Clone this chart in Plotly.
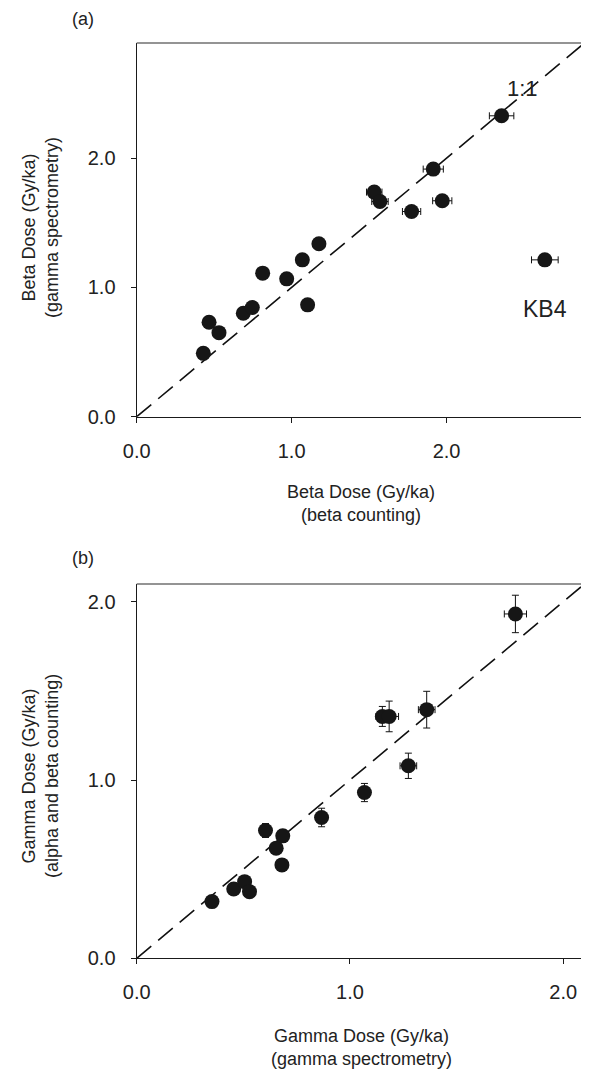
import plotly.graph_objects as go

# ---------------- data ----------------
# Panel (a): beta dose, beta counting (x) vs gamma spectrometry (y)
beta_counting = [0.43, 0.467, 0.531, 0.688, 0.746, 0.813, 0.968, 1.069, 1.103, 1.176,
                 1.533, 1.57, 1.774, 1.914, 1.972, 2.355, 2.634]
beta_gamma_spec = [0.49, 0.73, 0.65, 0.80, 0.844, 1.11, 1.066, 1.213, 0.865, 1.337,
                   1.737, 1.664, 1.587, 1.915, 1.67, 2.327, 1.213]
beta_counting_err = [0.03, 0.03, 0.03, 0.03, 0.03, 0.03, 0.03, 0.03, 0.03, 0.03,
                     0.05, 0.053, 0.059, 0.065, 0.062, 0.079, 0.086]
beta_gamma_spec_err = [0.03] * 17

# Panel (b): gamma dose, gamma spectrometry (x) vs alpha and beta counting (y)
gamma_spec = [0.353, 0.455, 0.506, 0.529, 0.604, 0.654, 0.685, 0.681, 0.867, 1.068,
              1.152, 1.184, 1.274, 1.36, 1.776]
gamma_ab_counting = [0.318, 0.389, 0.43, 0.374, 0.717, 0.618, 0.687, 0.524, 0.79, 0.93,
                     1.357, 1.357, 1.08, 1.395, 1.932]
gamma_spec_err = [0.02, 0.02, 0.02, 0.02, 0.02, 0.02, 0.02, 0.02, 0.02, 0.025,
                  0.03, 0.044, 0.039, 0.039, 0.052]
gamma_ab_counting_err = [0.02, 0.02, 0.02, 0.02, 0.039, 0.03, 0.035, 0.03, 0.052, 0.051,
                         0.056, 0.086, 0.071, 0.103, 0.105]

range_a = [0, 2.89]
range_b = [0, 2.1]
tick_vals = [0.0, 1.0, 2.0]
tick_text = ["0.0", "1.0", "2.0"]

# ---------------- figure ----------------
W, H = 589, 1074
OFF = 8  # page body margin offset
FONT = "Liberation Sans, Arial, sans-serif"
INK = "#222222"
MARK = "#161616"


def px_x(p):
    return (p - OFF) / W


def px_y(p):
    return 1 - (p - OFF) / H


fig = go.Figure()

err_style = dict(type="data", visible=True, color="#111111", thickness=1, width=3.5)

# 1:1 lines
fig.add_trace(go.Scatter(x=range_a, y=range_a, mode="lines", xaxis="x", yaxis="y",
                         line=dict(color="#111111", width=1.6, dash="19px,9px"),
                         hoverinfo="skip", showlegend=False))
fig.add_trace(go.Scatter(x=range_b, y=range_b, mode="lines", xaxis="x2", yaxis="y2",
                         line=dict(color="#111111", width=1.6, dash="19px,9px"),
                         hoverinfo="skip", showlegend=False))

fig.add_trace(go.Scatter(
    x=beta_counting, y=beta_gamma_spec, mode="markers", xaxis="x", yaxis="y",
    marker=dict(size=15, color=MARK),
    error_x=dict(array=beta_counting_err, **err_style),
    error_y=dict(array=beta_gamma_spec_err, **err_style),
    showlegend=False))

fig.add_trace(go.Scatter(
    x=gamma_spec, y=gamma_ab_counting, mode="markers", xaxis="x2", yaxis="y2",
    marker=dict(size=15, color=MARK),
    error_x=dict(array=gamma_spec_err, **err_style),
    error_y=dict(array=gamma_ab_counting_err, **err_style),
    showlegend=False))

axis_common = dict(
    showgrid=False, zeroline=False, showline=True, linecolor="#1a1a1a", linewidth=1.3,
    ticks="outside", ticklen=5, tickwidth=1.2, tickcolor="#1a1a1a",
    tickvals=tick_vals, ticktext=tick_text,
    tickfont=dict(family=FONT, size=20, color=INK),
    mirror=False, fixedrange=True, automargin=False,
)

xa_dom = [px_x(136.7), px_x(584.5)]
ya_dom = [px_y(416.7), px_y(43)]
xb_dom = [px_x(136.7), px_x(584.5)]
yb_dom = [px_y(958.3), px_y(584)]

fig.update_layout(
    width=W, height=H,
    margin=dict(l=0, r=0, t=0, b=0, pad=0, autoexpand=False),
    paper_bgcolor="white", plot_bgcolor="white",
    xaxis=dict(domain=xa_dom, range=range_a, anchor="y", ticklabelstandoff=11, **axis_common),
    yaxis=dict(domain=ya_dom, range=range_a, anchor="x", ticklabelstandoff=11, **axis_common),
    xaxis2=dict(domain=xb_dom, range=range_b, anchor="y2", ticklabelstandoff=11, **axis_common),
    yaxis2=dict(domain=yb_dom, range=range_b, anchor="x2", ticklabelstandoff=11, **axis_common),
)

# top/right frame lines (lighter grey)
for xr, yr in (("x", "y"), ("x2", "y2")):
    fig.add_shape(type="line", xref=f"{xr} domain", yref=f"{yr} domain",
                  x0=0, x1=1, y0=1, y1=1, line=dict(color="#707070", width=1.4))
    fig.add_shape(type="line", xref=f"{xr} domain", yref=f"{yr} domain",
                  x0=1, x1=1, y0=0, y1=1, line=dict(color="#707070", width=1.4))

title_font = dict(family=FONT, size=18, color=INK)
ctr = dict(xanchor="center", yanchor="middle", showarrow=False)

annotations = [
    dict(text="(a)", x=px_x(83), y=px_y(19), xref="paper", yref="paper",
         font=dict(family=FONT, size=18, color=INK), **ctr),
    dict(text="(b)", x=px_x(83), y=px_y(558), xref="paper", yref="paper",
         font=dict(family=FONT, size=18, color=INK), **ctr),
    dict(text="Beta Dose (Gy/ka)<br>(beta counting)", x=px_x(361), y=px_y(504),
         xref="paper", yref="paper", font=title_font, **ctr),
    dict(text="Beta Dose (Gy/ka)<br>(gamma spectrometry)", x=px_x(40), y=px_y(228),
         xref="paper", yref="paper", textangle=-90, font=title_font, **ctr),
    dict(text="Gamma Dose (Gy/ka)<br>(gamma spectrometry)", x=px_x(361), y=px_y(1047),
         xref="paper", yref="paper", font=title_font, **ctr),
    dict(text="Gamma Dose (Gy/ka)<br>(alpha and beta counting)", x=px_x(40), y=px_y(776),
         xref="paper", yref="paper", textangle=-90, font=title_font, **ctr),
    dict(text="1:1", x=2.488, y=2.542, xref="x", yref="y",
         font=dict(family=FONT, size=22, color=INK), **ctr),
    dict(text="KB4", x=2.634, y=0.836, xref="x", yref="y",
         font=dict(family=FONT, size=23, color=INK), **ctr),
]
fig.update_layout(annotations=annotations)

fig.write_html("out.html")
